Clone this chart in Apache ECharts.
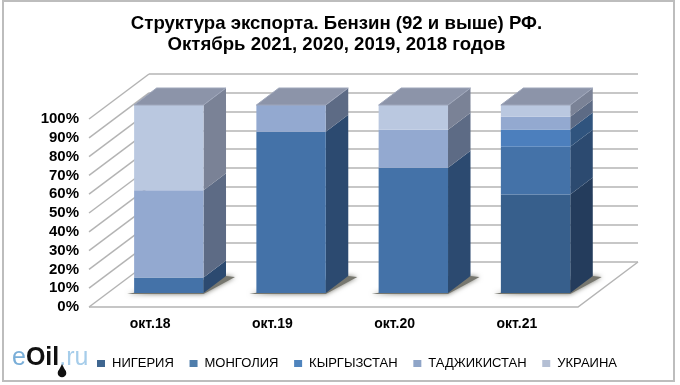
<!DOCTYPE html>
<html>
<head>
<meta charset="utf-8">
<style>
  html, body { margin: 0; padding: 0; background: #fff; }
  #chart { width: 680px; height: 385px; }
</style>
<script src="https://cdn.jsdelivr.net/npm/echarts@6/dist/echarts.min.js"></script>
</head>
<body>
<div id="chart"></div>
<script>
const categories = ['окт.18', 'окт.19', 'окт.20', 'окт.21'];
const yTicks = [0, 10, 20, 30, 40, 50, 60, 70, 80, 90, 100];

const nigeria = [0, 0, 0, 52.4];
const mongolia = [8.2, 85.8, 66.6, 25.4];
const kyrgyzstan = [0, 0, 0, 9.2];
const tajikistan = [46.5, 14.2, 20.3, 6.8];
const ukraine = [45.3, 0, 13.1, 6.2];

const seriesNames = ['НИГЕРИЯ', 'МОНГОЛИЯ', 'КЫРГЫЗСТАН', 'ТАДЖИКИСТАН', 'УКРАИНА'];
const seriesValues = [nigeria, mongolia, kyrgyzstan, tajikistan, ukraine];
const frontColors = ['#375f8c', '#4472a8', '#4c7fbd', '#93a9d0', '#bac8e0'];
const sideColors = ['#243c5c', '#2c4a70', '#30547e', '#5d6b85', '#7a8296'];
const legendColors = ['#3f6690', '#4f7dab', '#4f84bd', '#8fa5c8', '#b4bfd4'];

const FONT = '"Liberation Sans", Arial, sans-serif';
const GRID_COLOR = '#b4b4b4';

// pseudo 3d: the front of the floor is on the axes, the back wall is shifted by WALL_*
const WALL_DX = 60;
const WALL_DY = -45;
const BAR_DX = 18.7; // bars stand a bit inside the floor
const BAR_DY = -14;
const BAR_HALF = 34.7;
const DEPTH_DX = 22.5;
const DEPTH_DY = -17;

function barSegment(params, api) {
  const cat = api.value(0);
  const low = api.coord([cat, api.value(1)]);
  const high = api.coord([cat, api.value(2)]);
  const x0 = low[0] + BAR_DX - BAR_HALF;
  const x1 = low[0] + BAR_DX + BAR_HALF;
  const yLow = low[1] + BAR_DY;
  const yHigh = high[1] + BAR_DY;
  const i = params.seriesIndex - 2;

  const children = [
    {
      type: 'polygon',
      shape: { points: [[x1, yLow], [x1 + DEPTH_DX, yLow + DEPTH_DY], [x1 + DEPTH_DX, yHigh + DEPTH_DY], [x1, yHigh]] },
      style: { fill: sideColors[i] }
    },
    {
      type: 'rect',
      shape: { x: x0, y: yHigh, width: x1 - x0, height: yLow - yHigh },
      style: { fill: frontColors[i] }
    }
  ];
  if (api.value(2) >= 99.9) {
    children.push({
      type: 'polygon',
      shape: { points: [[x0, yHigh], [x1, yHigh], [x1 + DEPTH_DX, yHigh + DEPTH_DY], [x0 + DEPTH_DX, yHigh + DEPTH_DY]] },
      style: { fill: '#8c94a9', stroke: '#9ea6ba', lineWidth: 1 }
    });
  }
  return { type: 'group', children: children };
}

function barShadow(params, api) {
  const base = api.coord([api.value(0), 0]);
  const x0 = base[0] + BAR_DX - BAR_HALF;
  const x1 = base[0] + BAR_DX + BAR_HALF;
  const y = base[1] + BAR_DY;
  return {
    type: 'polygon',
    shape: { points: [[x0 - 7, y + 1], [x1, y + 1], [x1 + DEPTH_DX + 9, y + DEPTH_DY + 1], [x1 + DEPTH_DX, y + DEPTH_DY]] },
    style: { fill: '#77776f', shadowBlur: 5, shadowColor: '#77776f' }
  };
}

function wallLine(params, api) {
  const start = api.coord([0, api.value(0)]);
  const x = start[0] - 61.1; // left edge of the grid, half a band from the first category
  const y = start[1];
  return {
    type: 'line',
    shape: { x1: x, y1: y, x2: x + WALL_DX, y2: y + WALL_DY },
    style: { stroke: GRID_COLOR, lineWidth: 1.5 }
  };
}

function stacked(values, k) {
  const rows = [];
  values.forEach((v, c) => {
    if (!v) return;
    let base = 0;
    for (let j = 0; j < k; j++) base += seriesValues[j][c];
    rows.push([c, base, base + v]);
  });
  return rows;
}

const barSeries = seriesNames.map((name, k) => ({
  name: name,
  type: 'custom',
  renderItem: barSegment,
  encode: { x: 0, y: [1, 2] },
  itemStyle: { color: legendColors[k] },
  data: stacked(seriesValues[k], k),
  z: 5
}));

const chart = echarts.init(document.getElementById('chart'));
chart.setOption({
  animation: false,
  title: {
    text: 'Структура экспорта. Бензин (92 и выше) РФ.\nОктябрь 2021, 2020, 2019, 2018 годов',
    left: 331.5,
    top: 8,
    textAlign: 'center',
    textStyle: { fontFamily: FONT, fontSize: 18.6, fontWeight: 'bold', color: '#000', lineHeight: 21 }
  },
  legend: {
    data: seriesNames,
    left: 97,
    top: 357,
    padding: 0,
    icon: 'rect',
    itemWidth: 8,
    itemHeight: 7,
    itemGap: 15.7,
    textStyle: { fontFamily: FONT, fontSize: 13, color: '#000', padding: [0, 0, 0, 2] }
  },
  grid: [
    { left: 89, top: 119, width: 489, height: 188 },
    { left: 149, top: 74, width: 489, height: 188 }
  ],
  xAxis: [
    {
      type: 'category',
      gridIndex: 0,
      data: categories,
      axisLine: { show: false },
      axisTick: { show: false },
      axisLabel: { fontFamily: FONT, fontSize: 14, fontWeight: 'bold', color: '#000', margin: 10 }
    },
    { type: 'value', gridIndex: 1, show: false }
  ],
  yAxis: [
    {
      type: 'value',
      gridIndex: 0,
      min: 0,
      max: 100,
      interval: 10,
      axisLine: { show: false },
      axisTick: { show: false },
      splitLine: { show: false },
      axisLabel: { formatter: '{value}%', fontFamily: FONT, fontSize: 15, fontWeight: 'bold', color: '#000', margin: 10 }
    },
    {
      type: 'value',
      gridIndex: 1,
      min: 0,
      max: 100,
      interval: 10,
      axisLine: { show: false },
      axisTick: { show: false },
      axisLabel: { show: false },
      splitLine: { lineStyle: { color: GRID_COLOR, width: 1.5 } }
    }
  ],
  series: [
    {
      name: 'wall',
      type: 'custom',
      renderItem: wallLine,
      encode: { y: 0 },
      data: yTicks.map((t) => [t]),
      z: 1
    },
    {
      name: 'shadow',
      type: 'custom',
      renderItem: barShadow,
      encode: { x: 0, y: 1 },
      data: categories.map((c, i) => [i, 0]),
      z: 2
    }
  ].concat(barSeries),
  graphic: [
    {
      type: 'rect',
      shape: { x: 3, y: 1, width: 671, height: 380 },
      style: { fill: 'none', stroke: '#bdbdbd', lineWidth: 2 },
      z: 0
    },
    {
      // floor edges in front and on the right
      type: 'polyline',
      shape: { points: [[89, 307], [578, 307], [638, 262]] },
      style: { fill: 'none', stroke: GRID_COLOR, lineWidth: 1.5 },
      z: 1
    },
    {
      type: 'text',
      left: 12,
      top: 346,
      style: {
        rich: {
          a: { fontFamily: FONT, fontSize: 25, fill: '#79aed8' },
          b: { fontFamily: FONT, fontSize: 25, fontWeight: 'bold', fill: '#111' },
          c: { fontFamily: FONT, fontSize: 25, fill: '#a6cdea' }
        },
        text: '{a|e}{b|Oil}{c|.ru}'
      },
      z: 6
    },
    {
      // oil drop under the logo
      type: 'polygon',
      shape: { points: [[62, 364], [58, 372], [66, 372]] },
      style: { fill: '#111' },
      z: 6
    },
    {
      type: 'circle',
      shape: { cx: 62, cy: 373, r: 4.3 },
      style: { fill: '#111' },
      z: 6
    }
  ]
});

window.addEventListener('resize', () => chart.resize());
</script>
</body>
</html>
